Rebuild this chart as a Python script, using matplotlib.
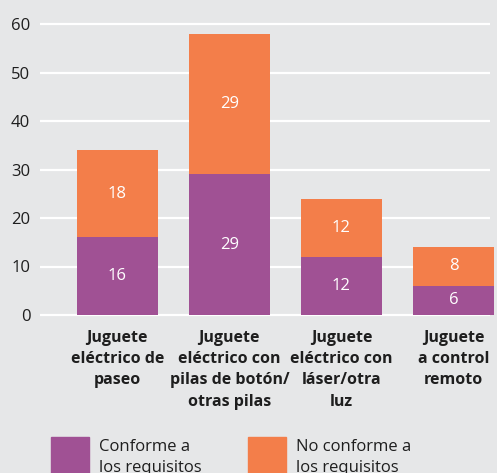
import matplotlib
matplotlib.use("Agg")
import matplotlib.pyplot as plt
from matplotlib.patches import Rectangle

# datos
categorias = ["Juguete\neléctrico de\npaseo",
              "Juguete\neléctrico con\npilas de botón/\notras pilas",
              "Juguete\neléctrico con\nláser/otra\nluz",
              "Juguete\na control\nremoto"]
conforme = [16, 29, 12, 6]
no_conforme = [18, 29, 12, 8]
series = ["Conforme a\nlos requisitos", "No conforme a\nlos requisitos"]
yticks = [0, 10, 20, 30, 40, 50, 60]

morado = "#a05194"
naranja = "#f37e4a"
fondo = "#e6e7e8"
texto = "#1e1e1e"

plt.rcParams['font.family'] = ['Open Sans', 'DejaVu Sans']

W, H = 497, 473
fig = plt.figure(figsize=(W / 100, H / 100), dpi=100, facecolor=fondo)
ax = fig.add_axes([40 / W, (H - 315) / H, (W - 40) / W, 291 / H])
ax.set_facecolor(fondo)

x = range(len(categorias))
ancho = 0.72

# lineas de cuadricula
ax.hlines(yticks, -0.69, 3.33, color="white", lw=1.6, zorder=1, clip_on=False)

ax.bar(x, conforme, width=ancho, color=morado, zorder=2)
ax.bar(x, no_conforme, width=ancho, bottom=conforme, color=naranja, zorder=2)

for i in x:
    ax.text(i, conforme[i] / 2, str(conforme[i]), ha="center", va="center",
            color="white", fontsize=12, zorder=3)
    ax.text(i, conforme[i] + no_conforme[i] / 2, str(no_conforme[i]),
            ha="center", va="center", color="white", fontsize=12, zorder=3)
    ax.text(i, -3.0, categorias[i], ha="center", va="top", color=texto,
            fontsize=11.5, fontweight="bold", linespacing=1.45)

ax.set_xlim(-0.69, (W - 117.5) / 112)
ax.set_ylim(0, 60)
ax.set_xticks([])
ax.set_yticks(yticks)
ax.set_yticklabels([str(v) for v in yticks], fontsize=12, color=texto)
ax.tick_params(axis="y", length=0, pad=7)
for s in ax.spines.values():
    s.set_visible(False)

# leyenda
for px, col, lab in [(51, morado, series[0]), (248, naranja, series[1])]:
    fig.add_artist(Rectangle((px / W, 0), 38 / W, (H - 437) / H,
                             transform=fig.transFigure, color=col))
    fig.text((px + 48) / W, (H - 439) / H, lab, ha="left", va="top",
             color=texto, fontsize=12, linespacing=1.45)

fig.savefig("out.png", dpi=100, facecolor=fondo)
